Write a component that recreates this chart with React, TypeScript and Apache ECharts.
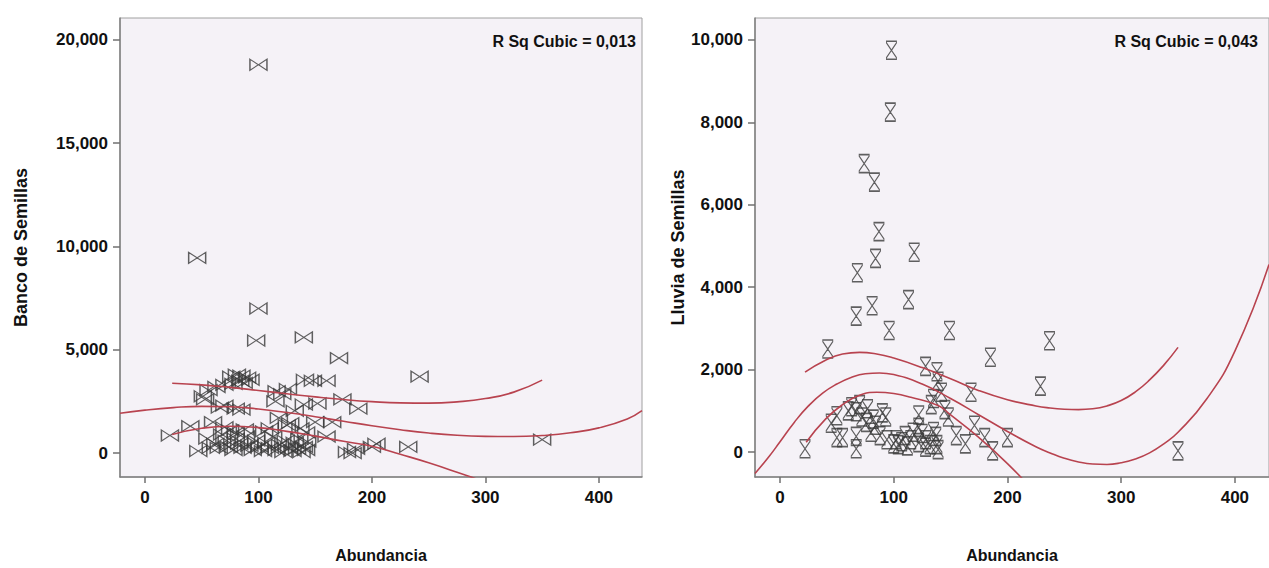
import React, { useEffect, useRef } from "react";
import * as echarts from "echarts";

// ---------- data ----------
const xTicks = [0, 100, 200, 300, 400];
const bancoTicks = [0, 5000, 10000, 15000, 20000];
const lluviaTicks = [0, 2000, 4000, 6000, 8000, 10000];

const bancoPoints: number[][] = [
  [100, 18800], [46, 9450], [100, 7000], [98, 5450], [140, 5600], [171, 4600], [242, 3700], [350, 650],
  [76, 3700], [81, 3800], [85, 3750], [90, 3650], [84, 3500], [87, 3400], [93, 3550], [78, 3350],
  [70, 3300], [63, 3200], [56, 3050], [116, 3000], [121, 2850], [126, 3100], [148, 3500], [160, 3500],
  [141, 3550], [53, 2600], [51, 2750], [70, 2300], [66, 2200], [80, 2150], [85, 2100], [152, 2400],
  [174, 2600], [188, 2150], [132, 2050], [140, 2350], [115, 2500], [40, 1300], [60, 1500], [70, 1250],
  [75, 1100], [80, 1000], [88, 1150], [105, 1050], [110, 1200], [125, 1350], [128, 1450], [137, 1200],
  [150, 1500], [165, 1500], [142, 1000], [118, 1700], [22, 850], [47, 100], [55, 700], [58, 250],
  [62, 450], [65, 250], [68, 900], [72, 600], [74, 300], [78, 150], [80, 700], [83, 450], [86, 250],
  [89, 800], [92, 350], [95, 150], [98, 600], [101, 300], [104, 100], [107, 500], [110, 250], [113, 800],
  [116, 150], [119, 400], [122, 50], [124, 600], [127, 250], [130, 100], [132, 500], [134, 200],
  [136, 700], [138, 50], [140, 300], [142, 150], [143, 550], [160, 800], [183, 0], [186, 200],
  [204, 450], [200, 300], [232, 300], [178, 50],
];

const bancoFit: number[][] = [
  [-22, 1930], [0, 2080], [25, 2200], [50, 2260], [75, 2240], [100, 2130], [125, 1960], [150, 1760],
  [175, 1540], [200, 1320], [225, 1130], [250, 970], [275, 860], [300, 810], [325, 800], [350, 850],
  [375, 980], [400, 1220], [425, 1650], [438, 2050],
];
const bancoUpper: number[][] = [
  [24, 3380], [50, 3300], [75, 3180], [100, 3030], [125, 2870], [150, 2720], [175, 2590], [200, 2490],
  [225, 2430], [250, 2420], [275, 2480], [300, 2640], [325, 2950], [350, 3530],
];
const bancoLower: number[][] = [
  [24, 900], [50, 1200], [75, 1300], [100, 1230], [125, 1050], [150, 820], [175, 570], [200, 330],
  [225, -60], [250, -470], [275, -930], [300, -1420], [325, -2000], [350, -2600],
];

const lluviaPoints: number[][] = [
  [98, 9750], [97, 8250], [74, 7000], [83, 6550], [87, 5350], [118, 4850], [84, 4700], [68, 4350],
  [113, 3700], [81, 3550], [67, 3300], [96, 2950], [149, 2950], [42, 2500], [185, 2300], [237, 2700],
  [229, 1600], [128, 2080], [138, 1950], [139, 1720], [142, 1450], [168, 1450], [135, 1300], [133, 1150],
  [145, 1030], [148, 850], [171, 650], [200, 350], [180, 350], [187, 30], [155, 400], [163, 200],
  [122, 900], [122, 600], [22, 80], [50, 880], [50, 350], [55, 350], [63, 1100], [67, 980], [67, 380],
  [67, 80], [77, 1050], [76, 720], [80, 480], [84, 650], [90, 950], [93, 850], [94, 300], [102, 300],
  [104, 180], [110, 400], [115, 300], [117, 480], [122, 230], [128, 300], [132, 180], [137, 380],
  [138, 180], [139, 60], [128, 120], [350, 30], [45, 700], [60, 1000], [72, 850], [88, 400], [107, 250],
  [125, 450], [112, 150], [135, 500], [100, 200], [70, 1150], [82, 800],
];

const lluviaFit: number[][] = [
  [-22, -520], [-10, -120], [0, 250], [12.5, 720], [25, 1120], [37.5, 1430], [50, 1650], [62.5, 1810],
  [75, 1900], [87.5, 1920], [100, 1880], [125, 1650], [150, 1300], [175, 900], [200, 500], [225, 130],
  [237.5, -20], [250, -150], [262.5, -240], [275, -290], [287.5, -300], [300, -260], [312.5, -170],
  [325, -20], [337.5, 200], [350, 480], [375, 1280], [400, 2450], [430, 4550],
];
const lluviaUpper: number[][] = [
  [22, 1940], [40, 2230], [55, 2380], [70, 2420], [85, 2380], [100, 2280], [125, 2050], [150, 1780],
  [175, 1490], [200, 1270], [225, 1120], [237.5, 1070], [250, 1040], [262.5, 1030], [275, 1050],
  [287.5, 1120], [300, 1250], [312.5, 1460], [325, 1750], [337.5, 2110], [350, 2540],
];
const lluviaLower: number[][] = [
  [23, 240], [40, 800], [55, 1150], [70, 1380], [85, 1450], [100, 1420], [115, 1330], [139, 1130],
  [150, 900], [175, 350], [200, -280], [225, -1000], [250, -1800],
];

const rsqLeft = "R Sq Cubic = 0,013";
const rsqRight = "R Sq Cubic = 0,043";

// ---------- styling ----------
const FONT = "'Liberation Sans', Arial, sans-serif";
const RED = "#B8434F";
const BOWTIE = "path://M0,0 L9,5 L18,0 L18,10 L9,5 L0,10 Z";
const HOURGLASS = "path://M0,0 L10,0 L10,1.6 L5,9 L10,16.4 L10,18 L0,18 L0,16.4 L5,9 L0,1.6 Z";

const fmt = (v: number) => Number(v).toLocaleString("en-US");

function xAxisCfg(gridIndex: number, min: number, max: number) {
  return {
    type: "value",
    gridIndex,
    min,
    max,
    name: "Abundancia",
    nameLocation: "middle",
    nameGap: 70,
    nameTextStyle: { fontFamily: FONT, fontSize: 16, fontWeight: "bold", color: "#111" },
    axisLine: { show: true, onZero: false, lineStyle: { color: "#808080", width: 1.5 } },
    axisTick: { show: true, length: 6, customValues: xTicks, lineStyle: { color: "#707070", width: 1.5 } },
    axisLabel: {
      customValues: xTicks,
      fontFamily: FONT,
      fontSize: 17,
      fontWeight: "bold",
      color: "#111",
      margin: 12,
      formatter: fmt,
    },
    splitLine: { show: false },
  };
}

function yAxisCfg(gridIndex: number, min: number, max: number, ticks: number[], name: string, nameGap: number) {
  return {
    type: "value",
    gridIndex,
    min,
    max,
    name,
    nameLocation: "middle",
    nameGap,
    nameTextStyle: { fontFamily: FONT, fontSize: 18, fontWeight: "bold", color: "#111" },
    axisLine: { show: true, onZero: false, lineStyle: { color: "#808080", width: 1.5 } },
    axisTick: { show: true, length: 7, customValues: ticks, lineStyle: { color: "#707070", width: 1.5 } },
    axisLabel: {
      customValues: ticks,
      fontFamily: FONT,
      fontSize: 17,
      fontWeight: "bold",
      color: "#111",
      margin: 12,
      formatter: fmt,
    },
    splitLine: { show: false },
  };
}

function lineSeries(data: number[][], idx: number) {
  return {
    type: "line",
    xAxisIndex: idx,
    yAxisIndex: idx,
    data,
    smooth: true,
    symbol: "none",
    showSymbol: false,
    clip: true,
    lineStyle: { color: RED, width: 1.6 },
    z: 3,
  };
}

export default function App() {
  const ref = useRef<HTMLDivElement>(null);

  useEffect(() => {
    if (!ref.current) return;
    const chart = echarts.init(ref.current, undefined, { renderer: "svg" });
    chart.setOption({
      animation: false,
      backgroundColor: "#ffffff",
      grid: [
        { left: 120, top: 18, width: 522, height: 460, show: true, backgroundColor: "#F5F2F7", borderColor: "#A0A0A0", borderWidth: 1 },
        { left: 755, top: 18, width: 518, height: 460, show: true, backgroundColor: "#F5F2F7", borderColor: "#A0A0A0", borderWidth: 1 },
      ],
      xAxis: [xAxisCfg(0, -22, 438), xAxisCfg(1, -22, 430)],
      yAxis: [
        yAxisCfg(0, -1159, 21063, bancoTicks, "Banco de Semillas", 90),
        yAxisCfg(1, -605, 10533, lluviaTicks, "Lluvia de Semillas", 63),
      ],
      series: [
        {
          type: "scatter",
          xAxisIndex: 0,
          yAxisIndex: 0,
          data: bancoPoints,
          symbol: BOWTIE,
          symbolSize: [17, 11],
          itemStyle: { color: "rgba(0,0,0,0)", borderColor: "#3a3a3a", borderWidth: 1.2 },
          z: 2,
        },
        lineSeries(bancoFit, 0),
        lineSeries(bancoUpper, 0),
        lineSeries(bancoLower, 0),
        {
          type: "scatter",
          xAxisIndex: 1,
          yAxisIndex: 1,
          data: lluviaPoints,
          symbol: HOURGLASS,
          symbolSize: [10, 18],
          itemStyle: { color: "rgba(0,0,0,0)", borderColor: "#3a3a3a", borderWidth: 1.2 },
          z: 2,
        },
        lineSeries(lluviaFit, 1),
        lineSeries(lluviaUpper, 1),
        lineSeries(lluviaLower, 1),
      ],
      graphic: [
        {
          type: "text",
          x: 636,
          y: 41,
          z: 10,
          style: { text: rsqLeft, textAlign: "right", textVerticalAlign: "middle", font: `bold 16px ${FONT}`, fill: "#111" },
        },
        {
          type: "text",
          x: 1258,
          y: 41,
          z: 10,
          style: { text: rsqRight, textAlign: "right", textVerticalAlign: "middle", font: `bold 16px ${FONT}`, fill: "#111" },
        },
      ],
    });
    return () => chart.dispose();
  }, []);

  return <div ref={ref} style={{ position: "absolute", left: 0, top: 0, width: 1269, height: 568 }} />;
}
